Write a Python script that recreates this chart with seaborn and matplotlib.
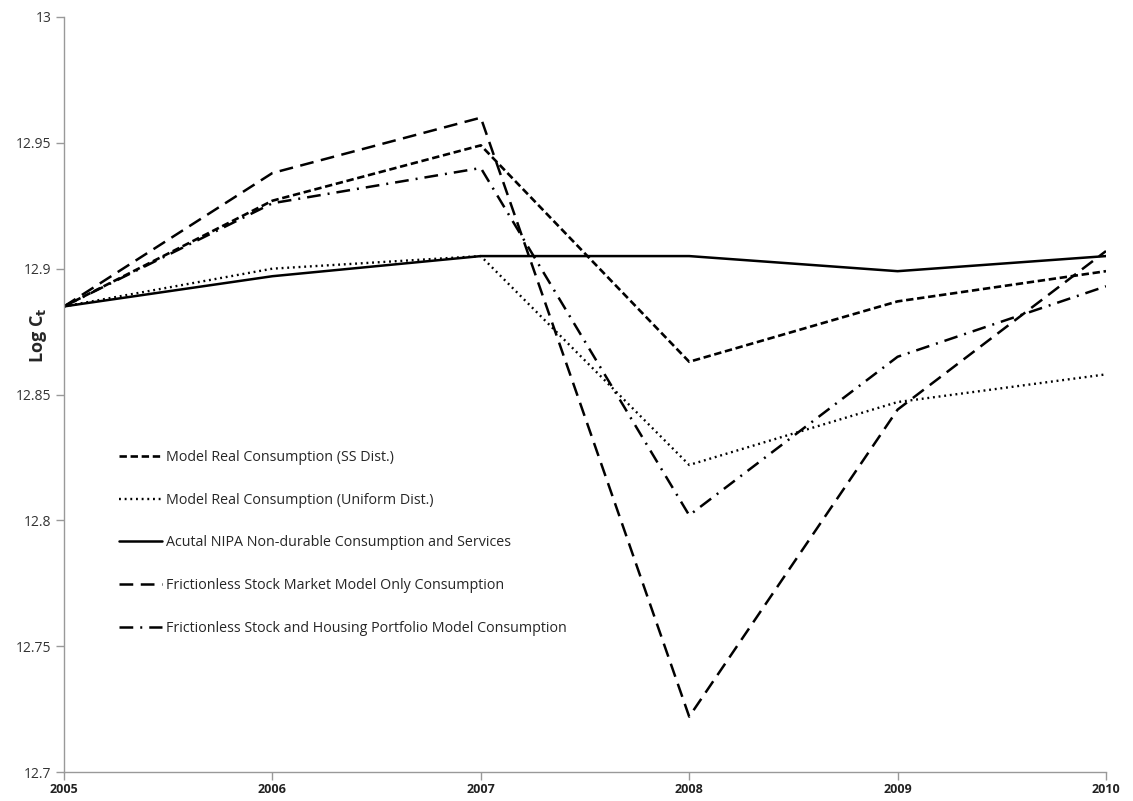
import numpy as np
import pandas as pd
import seaborn as sns
import matplotlib.pyplot as plt

years = [2005, 2006, 2007, 2008, 2009, 2010]

ss_dist = [12.885, 12.927, 12.949, 12.863, 12.887, 12.899]
uniform_dist = [12.885, 12.900, 12.905, 12.822, 12.847, 12.858]
nipa_actual = [12.885, 12.897, 12.905, 12.905, 12.899, 12.905]
stock_only = [12.885, 12.938, 12.960, 12.722, 12.844, 12.907]
stock_housing = [12.885, 12.926, 12.940, 12.802, 12.865, 12.893]

labels = [
    "Model Real Consumption (SS Dist.)",
    "Model Real Consumption (Uniform Dist.)",
    "Acutal NIPA Non-durable Consumption and Services",
    "Frictionless Stock Market Model Only Consumption",
    "Frictionless Stock and Housing Portfolio Model Consumption",
]

sns.set_style("white")
plt.rcParams['font.family'] = ['Open Sans', 'DejaVu Sans']

fig = plt.figure(figsize=(11.33, 8.01), dpi=100)
ax = fig.add_axes([64/1133, 1 - 772/801, (1106 - 64)/1133, (772 - 17)/801])

series = [ss_dist, uniform_dist, nipa_actual, stock_only, stock_housing]
styles = [
    dict(linestyle=(0, (2.8, 1.4)), linewidth=1.9),
    dict(linestyle=(0, (0.8, 1.6)), linewidth=1.7),
    dict(linestyle='-', linewidth=1.8),
    dict(linestyle=(0, (5.5, 3.0)), linewidth=1.8),
    dict(linestyle=(0, (5.5, 2.8, 0.8, 2.8)), linewidth=1.8),
]

for vals, lab, st in zip(series, labels, styles):
    df = pd.DataFrame({'year': years, 'value': vals})
    sns.lineplot(data=df, x='year', y='value', ax=ax, color='black', label=lab, **st)

ax.set_xlim(2005, 2010)
ax.set_ylim(12.7, 13.0)
ax.set_yticks(np.arange(12.7, 13.0001, 0.05))
ax.set_yticklabels(["12.7", "12.75", "12.8", "12.85", "12.9", "12.95", "13"])
ax.set_xticks(years)
ax.set_xticklabels([str(y) for y in years], fontweight='bold', fontsize=9)
ax.tick_params(axis='y', labelsize=10, labelcolor='#333333', length=6, width=1,
               direction='out', left=True, pad=3)
ax.tick_params(axis='x', length=6, width=1, direction='out', bottom=True,
               labelcolor='#222222', pad=2)
for s in ['top', 'right']:
    ax.spines[s].set_visible(False)
for s in ['left', 'bottom']:
    ax.spines[s].set_color('#999999')
    ax.spines[s].set_linewidth(1)
ax.tick_params(color='#999999')

ax.set_xlabel('')
ax.set_ylabel(r'Log C$_\mathbf{t}$', fontweight='bold', fontsize=13)
ax.yaxis.set_label_coords(-0.0145, 0.579)

ax.legend(loc='upper left', bbox_to_anchor=(112/1133, 1 - 443/801),
          bbox_transform=fig.transFigure, frameon=False, fontsize=10.3,
          handlelength=3.0, handletextpad=0.25, labelspacing=1.93, borderpad=0)

fig.savefig('out.png', dpi=100)
